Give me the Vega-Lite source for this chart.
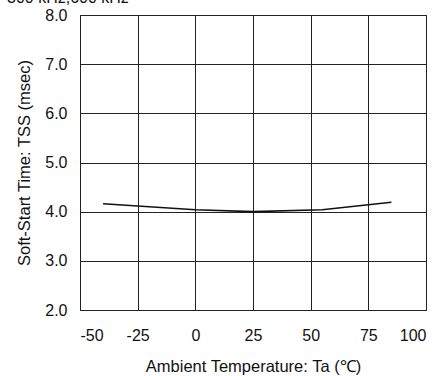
{
  "$schema": "https://vega.github.io/schema/vega-lite/v6.json",
  "autosize": "none",
  "width": 346,
  "height": 295,
  "padding": {"left": 80, "top": 15, "right": 16, "bottom": 66},
  "background": "white",
  "config": {
    "font": "Liberation Sans",
    "view": {"stroke": "#222", "strokeWidth": 1},
    "axis": {
      "grid": true, "gridColor": "#222", "gridOpacity": 1, "gridWidth": 1,
      "domain": false, "ticks": false,
      "labelFont": "Liberation Sans", "labelFontSize": 16, "labelColor": "#111",
      "titleFont": "Liberation Sans", "titleFontSize": 16.5, "titleFontWeight": "normal", "titleColor": "#111"
    }
  },
  "data": {"values": [
    {"t": -40, "tss": 4.16},
    {"t": 0, "tss": 4.04},
    {"t": 25, "tss": 4.0},
    {"t": 55, "tss": 4.04},
    {"t": 85, "tss": 4.19}
  ]},
  "layer": [
    {
      "mark": {"type": "line", "color": "#111", "strokeWidth": 1.6},
      "encoding": {
        "x": {"field": "t", "type": "quantitative",
              "scale": {"domain": [-50, 100], "nice": false},
              "axis": {"values": [-50, -25, 0, 25, 50, 75, 100], "labelExpr": "replace(datum.label, '−', '-')", "labelPadding": 17, "title": "Ambient Temperature: Ta (℃)", "titlePadding": 15}},
        "y": {"field": "tss", "type": "quantitative",
              "scale": {"domain": [2, 8], "nice": false, "zero": false},
              "axis": {"values": [2, 3, 4, 5, 6, 7, 8], "format": ".1f", "labelPadding": 13, "title": "Soft-Start Time: TSS (msec)", "titlePadding": 12}}
      }
    },
    {
      "data": {"values": [{"label": "300 kHz,600 kHz"}]},
      "mark": {"type": "text", "clip": false, "align": "left", "baseline": "alphabetic", "fontSize": 16, "color": "#111", "dx": -73},
      "encoding": {
        "text": {"field": "label"},
        "x": {"datum": -50},
        "y": {"datum": 8.235}
      }
    }
  ]
}
